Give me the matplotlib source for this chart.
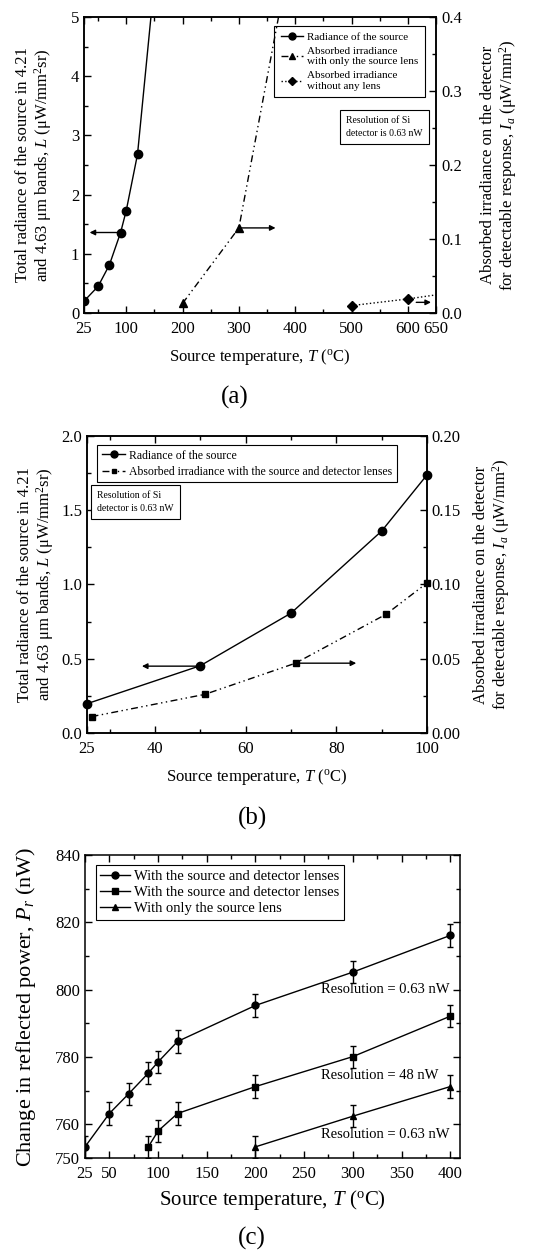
import matplotlib
matplotlib.use('Agg')
import matplotlib.pyplot as plt
from matplotlib.lines import Line2D

plt.rcParams['font.family'] = ['Liberation Serif', 'DejaVu Serif']
plt.rcParams['mathtext.fontset'] = 'custom'
plt.rcParams['mathtext.rm'] = 'Liberation Serif'
plt.rcParams['mathtext.it'] = 'Liberation Serif:italic'
plt.rcParams['xtick.direction'] = 'in'
plt.rcParams['ytick.direction'] = 'in'
plt.rcParams['axes.linewidth'] = 1.1

# ---- panel (a) data
temp_a_rad = [25, 50, 70, 90, 100, 120, 150, 200]
rad_a = [0.20, 0.45, 0.81, 1.36, 1.73, 2.68, 5.6, 13.0]
temp_a_src = [200, 300, 400]
irr_a_src = [0.013, 0.115, 0.52]
temp_a_none = [500, 600, 700]
irr_a_none = [0.010, 0.019, 0.030]
xticks_a = [25, 100, 200, 300, 400, 500, 600, 650]

# ---- panel (b) data
temp_b_rad = [25, 50, 70, 90, 100]
rad_b = [0.197, 0.453, 0.807, 1.36, 1.738]
temp_b_irr = [26, 51, 71, 91, 100]
irr_b = [0.011, 0.026, 0.047, 0.080, 0.101]
xticks_b = [25, 40, 60, 80, 100]

# ---- panel (c) data
temp_c1 = [25, 50, 70, 90, 100, 120, 200, 300, 400]
pr_c1 = [753.3, 763.2, 769.1, 775.2, 778.5, 784.6, 795.3, 805.2, 816.1]
temp_c2 = [90, 100, 120, 200, 300, 400]
pr_c2 = [753.3, 758.0, 763.2, 771.2, 780.1, 792.1]
temp_c3 = [200, 300, 400]
pr_c3 = [753.3, 762.4, 771.2]
err_c = 3.3
xticks_c = [25, 50, 100, 150, 200, 250, 300, 350, 400]
yticks_c = [750, 760, 780, 800, 820, 840]

dashdot2 = (0, (5, 2.5, 1, 2.5, 1, 2.5))
arrow = dict(arrowstyle='-|>', color='k', lw=1.0, mutation_scale=8)

fig = plt.figure(figsize=(5.57, 12.54), dpi=100)


def style_axes(ax, fs=12):
    ax.tick_params(which='both', top=True, labelsize=fs, width=1.0)
    ax.tick_params(which='major', length=5)
    ax.tick_params(which='minor', length=3)
    ax.tick_params(axis='x', pad=6)


# ================= (a)
ax = fig.add_axes([0.1508, 0.7504, 0.632, 0.236])
ax2 = ax.twinx()
ax.plot(temp_a_rad, rad_a, '-', color='k', marker='o', ms=6, lw=1.0)
ax2.plot(temp_a_src, irr_a_src, color='k', ls=dashdot2, marker='^', ms=6, lw=1.0)
ax2.plot(temp_a_none, irr_a_none, color='k', ls=':', marker='D', ms=5, lw=1.0)
ax.set_xlim(25, 650)
ax.set_ylim(0, 5)
ax2.set_ylim(0, 0.4)
ax.set_xticks(xticks_a)
ax.set_xticks([50, 150, 250, 350, 450, 550], minor=True)
ax.set_yticks([0, 1, 2, 3, 4, 5])
ax.set_yticks([0.5, 1.5, 2.5, 3.5, 4.5], minor=True)
ax2.set_yticks([0.0, 0.1, 0.2, 0.3, 0.4])
ax2.set_yticks([0.05, 0.15, 0.25, 0.35], minor=True)
style_axes(ax)
style_axes(ax2)
ax.set_xlabel('Source temperature, $T$ ($^{\\mathrm{o}}$C)', fontsize=12)
ax.xaxis.set_label_coords(0.5, -0.115)
ax.set_ylabel('Total radiance of the source in 4.21\n'
              'and 4.63 μm bands, $L$ (μW/mm$^2$sr)', fontsize=12, linespacing=1.1)
ax.yaxis.set_label_coords(-0.085, 0.5)
ax2.set_ylabel('Absorbed irradiance on the detector\n'
               'for detectable response, $I_a$ (μW/mm$^2$)', fontsize=12, linespacing=1.1)
ax2.yaxis.set_label_coords(1.125, 0.5)
ax.annotate('', xy=(30, 1.36), xytext=(90, 1.36), arrowprops=arrow)
ax2.annotate('', xy=(370, 0.115), xytext=(300, 0.115), arrowprops=arrow)
ax2.annotate('', xy=(646, 0.0144), xytext=(610, 0.0144), arrowprops=arrow)
handles_a = [
    Line2D([], [], color='k', marker='o', ms=5, lw=1.0),
    Line2D([], [], color='k', ls=dashdot2, marker='^', ms=5, lw=1.0),
    Line2D([], [], color='k', ls=':', marker='D', ms=4, lw=1.0),
]
leg = ax.legend(handles_a, ['Radiance of the source',
                            'Absorbed irradiance\nwith only the source lens',
                            'Absorbed irradiance\nwithout any lens'],
                loc='upper right', bbox_to_anchor=(0.985, 0.99), fontsize=8,
                fancybox=False, edgecolor='k', framealpha=1, handlelength=2.0,
                borderpad=0.6, labelspacing=0.45, handletextpad=0.4)
leg.get_frame().set_linewidth(0.8)
ax.text(0.745, 0.665, 'Resolution of Si\ndetector is 0.63 nW', transform=ax.transAxes,
        fontsize=7, va='top', ha='left', linespacing=1.6,
        bbox=dict(boxstyle='square,pad=0.6', fc='white', ec='k', lw=0.8))
fig.text(0.422, 0.683, '(a)', fontsize=18, ha='center', va='center')

# ================= (b)
bx = fig.add_axes([0.1562, 0.4155, 0.6104, 0.2368])
bx2 = bx.twinx()
bx.plot(temp_b_rad, rad_b, '-', color='k', marker='o', ms=6, lw=1.0, clip_on=False)
bx2.plot(temp_b_irr, irr_b, color='k', ls=dashdot2, marker='s', ms=4, lw=1.0, clip_on=False)
bx.set_xlim(25, 100)
bx.set_ylim(0, 2.0)
bx2.set_ylim(0, 0.20)
bx.set_xticks(xticks_b)
bx.set_xticks([30, 50, 70, 90], minor=True)
bx.set_yticks([0.0, 0.5, 1.0, 1.5, 2.0])
bx.set_yticks([0.25, 0.75, 1.25, 1.75], minor=True)
bx2.set_yticks([0.0, 0.05, 0.10, 0.15, 0.20])
bx2.set_yticks([0.025, 0.075, 0.125, 0.175], minor=True)
bx.yaxis.set_major_formatter(matplotlib.ticker.FormatStrFormatter('%.1f'))
bx2.yaxis.set_major_formatter(matplotlib.ticker.FormatStrFormatter('%.2f'))
style_axes(bx)
style_axes(bx2)
bx.set_xlabel('Source temperature, $T$ ($^{\\mathrm{o}}$C)', fontsize=12)
bx.xaxis.set_label_coords(0.5, -0.115)
bx.set_ylabel('Total radiance of the source in 4.21\n'
              'and 4.63 μm bands, $L$ (μW/mm$^2$sr)', fontsize=12, linespacing=1.1)
bx.yaxis.set_label_coords(-0.09, 0.5)
bx2.set_ylabel('Absorbed irradiance on the detector\n'
               'for detectable response, $I_a$ (μW/mm$^2$)', fontsize=12, linespacing=1.1)
bx2.yaxis.set_label_coords(1.135, 0.5)
bx.annotate('', xy=(36.5, 0.45), xytext=(50, 0.45), arrowprops=arrow)
bx2.annotate('', xy=(85, 0.047), xytext=(71, 0.047), arrowprops=arrow)
handles_b = [
    Line2D([], [], color='k', marker='o', ms=5, lw=1.0),
    Line2D([], [], color='k', ls=dashdot2, marker='s', ms=3.5, lw=1.0),
]
leg = bx.legend(handles_b, ['Radiance of the source',
                            'Absorbed irradiance with the source and detector lenses'],
                loc='upper left', bbox_to_anchor=(0.012, 0.99), fontsize=8.5,
                fancybox=False, edgecolor='k', framealpha=1, handlelength=2.0,
                borderpad=0.4, labelspacing=0.35, handletextpad=0.3)
leg.get_frame().set_linewidth(0.8)
bx.text(0.03, 0.815, 'Resolution of Si\ndetector is 0.63 nW', transform=bx.transAxes,
        fontsize=7, va='top', ha='left', linespacing=1.6,
        bbox=dict(boxstyle='square,pad=0.6', fc='white', ec='k', lw=0.8))
fig.text(0.454, 0.3477, '(b)', fontsize=18, ha='center', va='center')

# ================= (c)
cx = fig.add_axes([0.1526, 0.0766, 0.6732, 0.2416])
ekw = dict(color='k', lw=1.0, ms=5, capsize=2.5, elinewidth=1.0, capthick=1.0)
cx.errorbar(temp_c1, pr_c1, yerr=err_c, marker='o', **ekw)
cx.errorbar(temp_c2, pr_c2, yerr=err_c, marker='s', **ekw)
cx.errorbar(temp_c3, pr_c3, yerr=err_c, marker='^', **ekw)
cx.set_xlim(25, 410)
cx.set_ylim(750, 840)
cx.set_xticks(xticks_c)
cx.set_xticks([75, 125, 175, 225, 275, 325, 375], minor=True)
cx.set_yticks(yticks_c)
cx.set_yticks([770, 790, 810, 830], minor=True)
style_axes(cx)
cx.tick_params(which='both', right=True)
cx.set_xlabel('Source temperature, $T$ ($^{\\mathrm{o}}$C)', fontsize=15)
cx.xaxis.set_label_coords(0.5, -0.1)
cx.set_ylabel('Change in reflected power, $P_r$ (nW)', fontsize=16)
cx.yaxis.set_label_coords(-0.125, 0.5)
cx.text(267, 800, 'Resolution = 0.63 nW', fontsize=10.5, va='center')
cx.text(267, 774.5, 'Resolution = 48 nW', fontsize=10.5, va='center')
cx.text(267, 757, 'Resolution = 0.63 nW', fontsize=10.5, va='center')
handles_c = [
    Line2D([], [], color='k', marker='o', ms=5, lw=1.0),
    Line2D([], [], color='k', marker='s', ms=5, lw=1.0),
    Line2D([], [], color='k', marker='^', ms=5, lw=1.0),
]
leg = cx.legend(handles_c, ['With the source and detector lenses',
                            'With the source and detector lenses',
                            'With only the source lens'],
                loc='upper left', bbox_to_anchor=(0.01, 0.99), fontsize=10.5,
                fancybox=False, edgecolor='k', framealpha=1, handlelength=2.0,
                borderpad=0.3, labelspacing=0.2, handletextpad=0.3)
leg.get_frame().set_linewidth(0.8)
fig.text(0.452, 0.012, '(c)', fontsize=18, ha='center', va='center')

fig.savefig('out.png', dpi=100)
